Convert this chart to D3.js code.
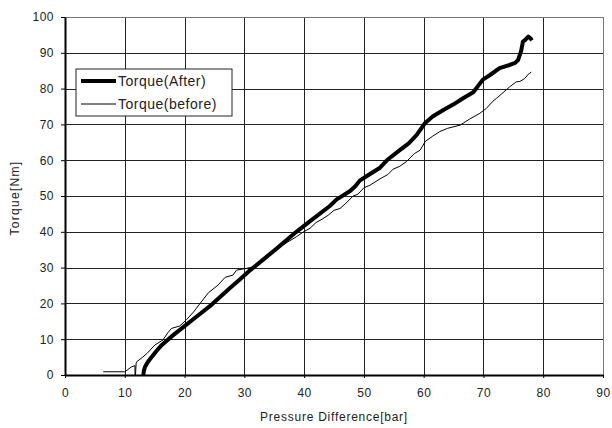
<!DOCTYPE html>
<html>
<head>
<meta charset="utf-8">
<script src="https://cdn.jsdelivr.net/npm/d3@7"></script>
<style>
  body { margin: 0; background: #fff; }
  text { font-family: "Liberation Sans", Arial, sans-serif; fill: #222; }
</style>
</head>
<body>
<svg width="612" height="428"></svg>
<script>
// data
var xTicks = [0, 10, 20, 30, 40, 50, 60, 70, 80, 90];
var yTicks = [0, 10, 20, 30, 40, 50, 60, 70, 80, 90, 100];

var afterX = [13.1, 13.2, 13.4, 13.8, 14.3, 15.2, 16.2, 18.0, 20.1, 22.3, 24.5, 27.6, 29.0, 31.0, 33.2, 35.4, 38.7, 41.0, 44.3, 45.4, 47.7, 48.6, 49.3, 50.5, 52.7, 54.0, 56.0, 57.5, 58.8, 60.2, 61.5, 63.3, 65.0, 66.6, 68.3, 69.9, 71.1, 72.7, 74.4, 75.3, 75.8, 76.3, 76.6, 77.0, 77.5, 77.9, 78.1];
var afterY = [0, 1.2, 2.3, 3.5, 4.6, 6.5, 8.4, 11.0, 13.8, 16.7, 19.6, 24.3, 26.3, 29.3, 32.3, 35.3, 40.0, 43.0, 47.2, 49.0, 51.4, 52.8, 54.3, 55.6, 57.9, 60.2, 62.8, 64.7, 67.0, 70.3, 72.2, 74.0, 75.6, 77.3, 79.0, 82.5, 83.8, 85.7, 86.6, 87.2, 88.0, 90.5, 93.1, 93.6, 94.5, 94.0, 93.5];

var beforeX = [6.4, 10.0, 10.5, 11.15, 11.7, 11.72, 11.8, 11.9, 12.0, 13.0, 13.7, 15.05, 16.4, 17.2, 17.8, 19.2, 20.3, 21.5, 22.6, 24.0, 25.6, 26.8, 28.1, 28.7, 30.4, 32.0, 33.7, 35.4, 37.1, 38.7, 39.9, 41.0, 42.0, 43.0, 44.0, 45.0, 46.0, 47.0, 48.2, 49.0, 50.0, 51.0, 52.7, 54.0, 54.9, 56.0, 57.1, 58.5, 59.4, 60.3, 61.5, 62.7, 64.0, 66.1, 67.7, 69.4, 70.5, 71.6, 72.2, 74.4, 75.5, 76.1, 76.9, 77.5, 78.0];
var beforeY = [0.9, 0.9, 1.5, 2.3, 2.6, 0, 0.2, 3.3, 3.7, 5.0, 6.0, 8.4, 9.8, 11.8, 13.0, 13.7, 15.4, 17.6, 20.0, 23.0, 25.1, 27.3, 27.9, 29.3, 29.8, 30.4, 33.5, 35.1, 37.0, 38.6, 40.0, 41.0, 42.6, 43.5, 44.6, 46.0, 46.5, 48.0, 50.0, 50.5, 52.3, 53.0, 54.8, 56.0, 57.5, 58.3, 59.6, 61.9, 62.8, 65.3, 66.7, 68.0, 68.9, 69.8, 71.5, 73.1, 74.5, 76.5, 77.3, 80.5, 81.9, 82.0, 82.8, 84.0, 84.6];

var seriesNames = ["Torque(After)", "Torque(before)"];

var margin = {top: 17, right: 9, bottom: 53, left: 65};
var width = 612 - margin.left - margin.right;
var height = 428 - margin.top - margin.bottom;

var svg = d3.select("svg");
var g = svg.append("g")
    .attr("transform", "translate(" + margin.left + "," + margin.top + ")");

var x = d3.scaleLinear().domain([0, 90]).range([0, width]);
var y = d3.scaleLinear().domain([0, 100]).range([height, 0]);

// grid
g.selectAll(".vgrid").data(xTicks.slice(1)).enter().append("line")
    .attr("x1", function(d) { return Math.round(x(d)) + 0.5; })
    .attr("x2", function(d) { return Math.round(x(d)) + 0.5; })
    .attr("y1", 0).attr("y2", height)
    .attr("stroke", function(d) { return d == 90 ? "#777" : "#222"; })
    .attr("stroke-width", 1);
g.selectAll(".hgrid").data(yTicks.slice(1)).enter().append("line")
    .attr("y1", function(d) { return Math.round(y(d)) + 0.5; })
    .attr("y2", function(d) { return Math.round(y(d)) + 0.5; })
    .attr("x1", 0).attr("x2", width)
    .attr("stroke", function(d) { return d == 100 ? "#777" : "#222"; })
    .attr("stroke-width", 1);

// axes
var xAxis = g.append("g")
    .attr("transform", "translate(0," + height + ")")
    .call(d3.axisBottom(x).tickValues(xTicks).tickSize(3).tickPadding(10).tickSizeOuter(0));
var yAxis = g.append("g")
    .call(d3.axisLeft(y).tickValues(yTicks).tickSize(4).tickPadding(7).tickSizeOuter(0));
[xAxis, yAxis].forEach(function(a) {
  a.select(".domain").attr("stroke", "#000").attr("stroke-width", 2);
  a.selectAll(".tick line").attr("stroke", "#000");
  a.selectAll(".tick text")
      .style("font-family", "'Liberation Sans', Arial, sans-serif")
      .style("font-size", "12px").style("letter-spacing", "0.5px")
      .attr("fill", "#333");
});

// series
var line = d3.line()
    .x(function(d) { return x(d[0]); })
    .y(function(d) { return y(d[1]); });

g.append("path")
    .datum(d3.zip(beforeX, beforeY))
    .attr("fill", "none").attr("stroke", "#000").attr("stroke-width", 1)
    .attr("d", line);
g.append("path")
    .datum(d3.zip(afterX, afterY))
    .attr("fill", "none").attr("stroke", "#000").attr("stroke-width", 4)
    .attr("stroke-linejoin", "round")
    .attr("d", line);

// axis titles
svg.append("text")
    .attr("x", 334).attr("y", 421)
    .attr("text-anchor", "middle").style("font-size", "12px")
    .style("letter-spacing", "0.75px")
    .text("Pressure Difference[bar]");
svg.append("text")
    .attr("transform", "translate(19,198) rotate(-90)")
    .attr("text-anchor", "middle").style("font-size", "12px")
    .style("letter-spacing", "1.3px")
    .text("Torque[Nm]");

// legend
var legend = svg.append("g").attr("transform", "translate(76,69)");
legend.append("rect")
    .attr("x", 0).attr("y", 0).attr("width", 156).attr("height", 47)
    .attr("fill", "#fff").attr("stroke", "#222").attr("stroke-width", 1);
var widths = [4, 1];
seriesNames.forEach(function(name, i) {
  var ly = 12 + i * 23;
  legend.append("line")
      .attr("x1", 5).attr("x2", 40).attr("y1", ly).attr("y2", ly)
      .attr("stroke", "#000").attr("stroke-width", widths[i]);
  legend.append("text")
      .attr("x", 42).attr("y", ly + 5)
      .style("font-size", "14px").style("letter-spacing", "0.5px")
      .text(name);
});
</script>
</body>
</html>
